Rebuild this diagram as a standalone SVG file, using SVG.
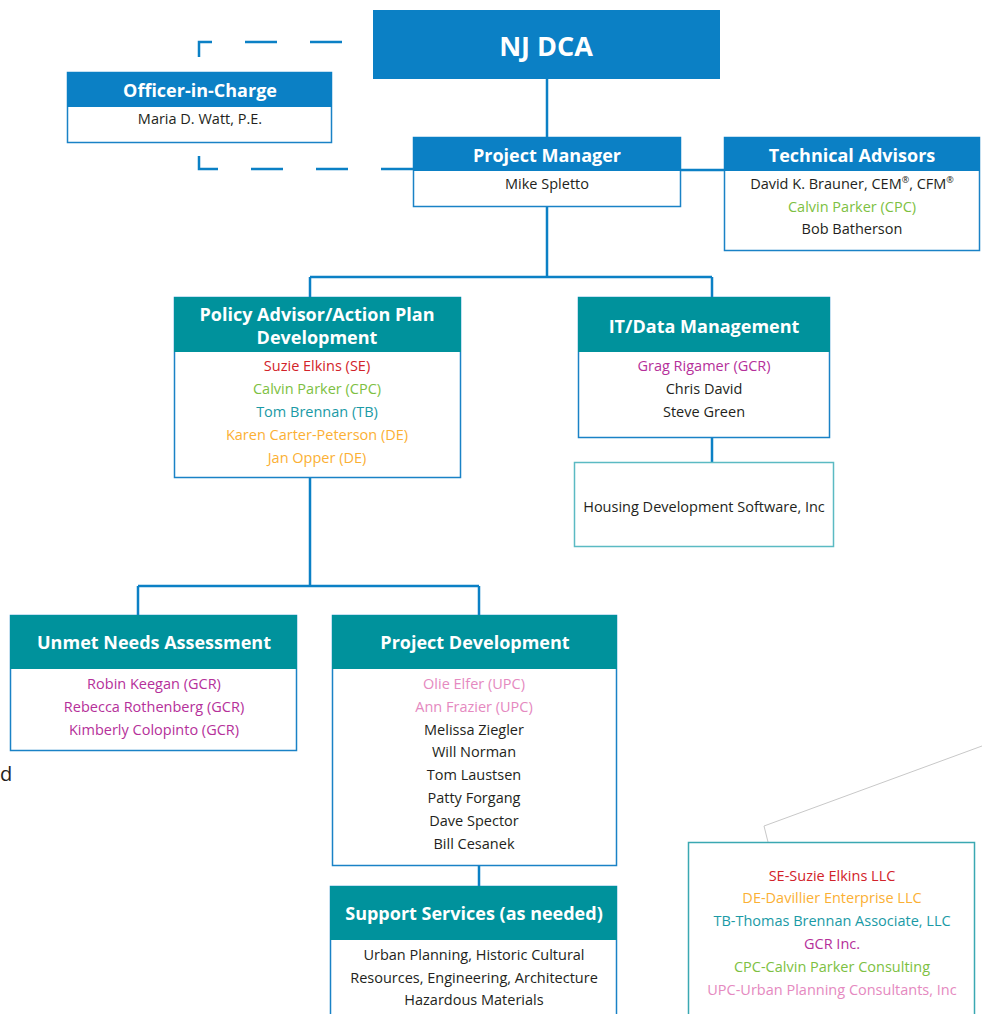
<svg xmlns="http://www.w3.org/2000/svg" width="982" height="1014" viewBox="0 0 982 1014">
<style>
text{font-family:"Open Sans","Liberation Sans",sans-serif;text-anchor:middle}
.h{font-weight:bold;fill:#fff;font-size:18px}
.b{font-size:14.5px;fill:#231f20}
.hb{fill:#0b80c5}
.ht{fill:#00929c}
.box{fill:#fff;stroke:#1a82c6;stroke-width:1.5}
.con{stroke:#0b80c5;stroke-width:2.5;fill:none}
.sup{font-size:9px;baseline-shift:super}
.red{fill:#d2232a}.grn{fill:#7dbf42}.tl{fill:#1a9aa6}.org{fill:#fbb034}.mag{fill:#b5309a}.pnk{fill:#e589c0}
</style>
<rect width="982" height="1014" fill="#fff"/>
<g id="connectors">
<path class="con" d="M547 79V137M547 207V277M310 277H712M310 277V297M712 277V297M681 170H724M712 438V462M310 478V586M138 586H479M138 586V615M479 586V615M479 866V886"/>
<path class="con" stroke-dasharray="32,33" d="M342 42H199V57"/>
<path class="con" stroke-dasharray="32,33" d="M413 169H199V153"/>
<path d="M982 746L764 826L768 842" stroke="#c8c8c8" stroke-width="1" fill="none"/>
</g>
<g id="nj-dca">
<rect x="373" y="10" width="347" height="69" class="hb"/>
<text x="546" y="56" style="font-weight:bold;fill:#fff;font-size:27px">NJ DCA</text>
</g>
<g id="officer">
<rect x="67.5" y="72.5" width="264" height="70" class="box"/>
<rect x="67" y="72" width="265" height="35" class="hb"/>
<text x="200" y="97" class="h">Officer-in-Charge</text>
<text x="200" y="124" class="b">Maria D. Watt, P.E.</text>
</g>
<g id="pm">
<rect x="413.5" y="137.5" width="267" height="69" class="box"/>
<rect x="413" y="137" width="268" height="34" class="hb"/>
<text x="547" y="162" class="h">Project Manager</text>
<text x="547" y="189" class="b">Mike Spletto</text>
</g>
<g id="tech">
<rect x="724.5" y="137.5" width="255" height="113" class="box"/>
<rect x="724" y="137" width="256" height="34" class="hb"/>
<text x="852" y="162" class="h">Technical Advisors</text>
<text x="852" y="189" class="b">David K. Brauner, CEM<tspan class="sup">®</tspan>, CFM<tspan class="sup">®</tspan></text>
<text x="852" y="212" class="b grn">Calvin Parker (CPC)</text>
<text x="852" y="234" class="b">Bob Batherson</text>
</g>
<g id="policy">
<rect x="174.5" y="297.5" width="286" height="180" class="box"/>
<rect x="174" y="297" width="287" height="55" class="ht"/>
<text x="317" y="321" class="h">Policy Advisor/Action Plan</text>
<text x="317" y="344" class="h">Development</text>
<text x="317" y="371" class="b red">Suzie Elkins (SE)</text>
<text x="317" y="394" class="b grn">Calvin Parker (CPC)</text>
<text x="317" y="417" class="b tl">Tom Brennan (TB)</text>
<text x="317" y="440" class="b org">Karen Carter-Peterson (DE)</text>
<text x="317" y="463" class="b org">Jan Opper (DE)</text>
</g>
<g id="it">
<rect x="578.5" y="297.5" width="251" height="140" class="box"/>
<rect x="578" y="297" width="252" height="55" class="ht"/>
<text x="704" y="333" class="h">IT/Data Management</text>
<text x="704" y="371" class="b mag">Grag Rigamer (GCR)</text>
<text x="704" y="394" class="b">Chris David</text>
<text x="704" y="417" class="b">Steve Green</text>
</g>
<g id="housing">
<rect x="574.5" y="462.5" width="259" height="84" fill="#fff" stroke="#5bbac3" stroke-width="1.5"/>
<text x="704" y="512" class="b">Housing Development Software, Inc</text>
</g>
<g id="unmet">
<rect x="10.5" y="615.5" width="286" height="135" class="box"/>
<rect x="10" y="615" width="287" height="54" class="ht"/>
<text x="154" y="649" class="h">Unmet Needs Assessment</text>
<text x="154" y="689" class="b mag">Robin Keegan (GCR)</text>
<text x="154" y="712" class="b mag">Rebecca Rothenberg (GCR)</text>
<text x="154" y="735" class="b mag">Kimberly Colopinto (GCR)</text>
</g>
<g id="projdev">
<rect x="332.5" y="615.5" width="284" height="250" class="box"/>
<rect x="332" y="615" width="285" height="54" class="ht"/>
<text x="475" y="649" class="h">Project Development</text>
<text x="474" y="689" class="b pnk">Olie Elfer (UPC)</text>
<text x="474" y="712" class="b pnk">Ann Frazier (UPC)</text>
<text x="474" y="735" class="b">Melissa Ziegler</text>
<text x="474" y="757" class="b">Will Norman</text>
<text x="474" y="780" class="b">Tom Laustsen</text>
<text x="474" y="803" class="b">Patty Forgang</text>
<text x="474" y="826" class="b">Dave Spector</text>
<text x="474" y="849" class="b">Bill Cesanek</text>
</g>
<g id="support">
<rect x="330.5" y="886.5" width="286" height="140" class="box"/>
<rect x="330" y="886" width="287" height="54" class="ht"/>
<text x="474" y="920" class="h">Support Services (as needed)</text>
<text x="474" y="960" class="b">Urban Planning, Historic Cultural</text>
<text x="474" y="983" class="b">Resources, Engineering, Architecture</text>
<text x="474" y="1005" class="b">Hazardous Materials</text>
</g>
<g id="legend">
<rect x="688.5" y="842.5" width="286" height="180" fill="#fff" stroke="#3aa8b2" stroke-width="1.5"/>
<text x="832" y="881" class="b red">SE-Suzie Elkins LLC</text>
<text x="832" y="903" class="b org">DE-Davillier Enterprise LLC</text>
<text x="832" y="926" class="b tl">TB-Thomas Brennan Associate, LLC</text>
<text x="832" y="949" class="b mag">GCR Inc.</text>
<text x="832" y="972" class="b grn">CPC-Calvin Parker Consulting</text>
<text x="832" y="995" class="b pnk">UPC-Urban Planning Consultants, Inc</text>
</g>
<text x="0" y="781" style="font-size:20px;fill:#231f20;text-anchor:start">d</text>
</svg>
